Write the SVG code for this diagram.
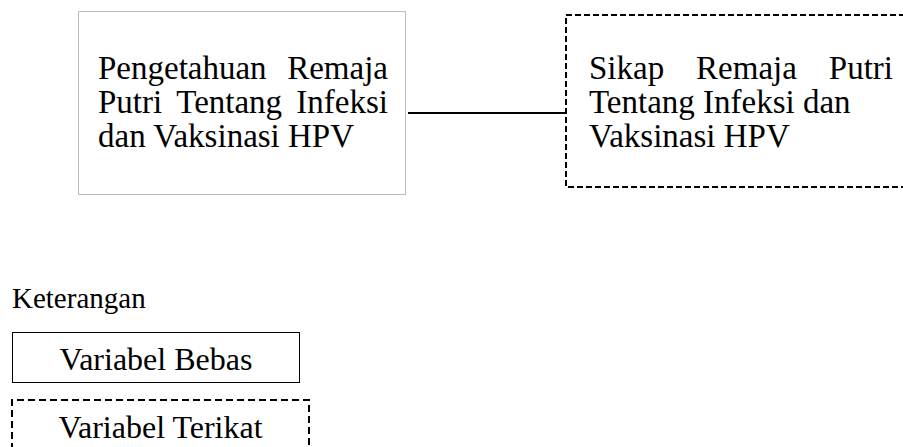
<svg xmlns="http://www.w3.org/2000/svg" width="903" height="447" viewBox="0 0 903 447">
<style>
text{font-family:"Liberation Serif","Times New Roman",serif;font-size:33px;fill:#000}
.end{text-anchor:end}
.mid{text-anchor:middle}
.dotted{fill:none;stroke:#7a7a7a;stroke-width:1;stroke-dasharray:1 1}
.dashed{fill:none;stroke:#000;stroke-width:2;stroke-dasharray:6 3}
.solid{fill:none;stroke:#000;stroke-width:1}
.conn{stroke:#000;stroke-width:2}
.leg{font-size:32px}
</style>
<rect width="903" height="447" fill="#fff"/>
<g id="node-pengetahuan">
<rect class="dotted" x="78.5" y="11.5" width="327" height="183"/>
<text x="98" y="79">Pengetahuan</text>
<text class="end" x="388" y="79">Remaja</text>
<text x="98" y="113">Putri</text>
<text class="mid" x="229.2" y="113">Tentang</text>
<text class="end" x="388" y="113">Infeksi</text>
<text x="98" y="147">dan Vaksinasi HPV</text>
</g>
<g id="node-sikap">
<path class="dashed" d="M905 15 H566 V187 H905"/>
<text x="589" y="79">Sikap</text>
<text x="696.1" y="79">Remaja</text>
<text class="end" x="893" y="79">Putri</text>
<text x="589" y="113">Tentang Infeksi dan</text>
<text x="589" y="147">Vaksinasi HPV</text>
</g>
<g id="connectors">
<line class="conn" x1="408" y1="113" x2="566" y2="113"/>
</g>
<g id="legend">
<text x="12" y="308" style="font-size:29px">Keterangan</text>
<g id="legend-bebas">
<rect class="solid" x="12.5" y="332.5" width="287" height="50"/>
<text class="mid leg" x="156" y="370">Variabel Bebas</text>
</g>
<g id="legend-terikat">
<path class="dashed" d="M12 450 V400 H309 V450" style="stroke-dasharray:7 4"/>
<text class="mid leg" x="160.5" y="438">Variabel Terikat</text>
</g>
</g>
</svg>
